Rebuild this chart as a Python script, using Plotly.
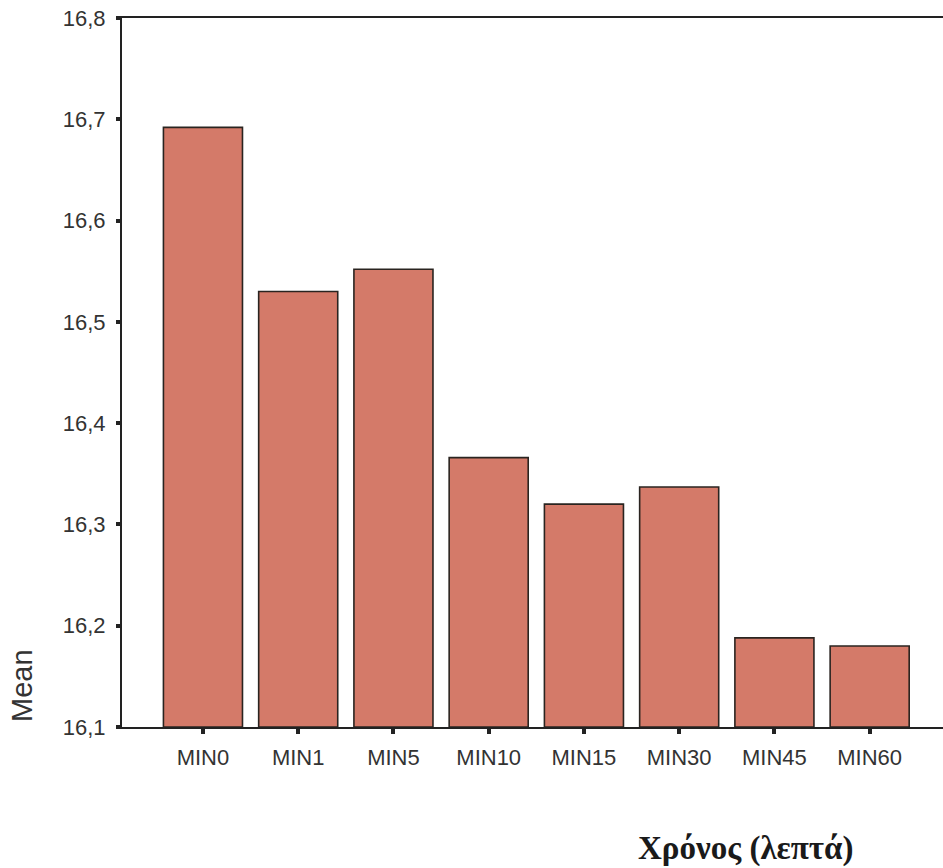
import plotly.graph_objects as go

# Mean value for each measurement time
categories = ["MIN0", "MIN1", "MIN5", "MIN10", "MIN15", "MIN30", "MIN45", "MIN60"]
means = [16.692, 16.530, 16.552, 16.366, 16.320, 16.337, 16.188, 16.180]

y_floor = 16.1
y_tick_values = [16.1, 16.2, 16.3, 16.4, 16.5, 16.6, 16.7, 16.8]
y_tick_labels = ["16,1", "16,2", "16,3", "16,4", "16,5", "16,6", "16,7", "16,8"]

fig = go.Figure()
# bars start at the axis floor; heights measured from it
fig.add_trace(go.Bar(
    x=categories,
    y=[m - y_floor for m in means],
    base=y_floor,
    width=0.83,
    marker=dict(color="#d47a69", line=dict(color="#2a2420", width=1.6)),
))

fig.update_layout(
    width=943, height=868,
    margin=dict(l=122, r=0, t=18, b=141),
    paper_bgcolor="white", plot_bgcolor="white",
    showlegend=False,
    font=dict(family="Liberation Sans, Arial, sans-serif", color="#333333"),
)
fig.update_xaxes(
    type="category",
    range=[-0.85, 7.77],
    showline=True, linecolor="#222222", linewidth=2, mirror=True,
    ticks="outside", ticklen=5, tickwidth=4, tickcolor="#222222",
    ticklabelstandoff=5,
    tickfont=dict(size=22, color="#333333"),
    showgrid=False, zeroline=False,
)
fig.update_yaxes(
    range=[16.1, 16.8],
    tickvals=y_tick_values, ticktext=y_tick_labels,
    showline=True, linecolor="#222222", linewidth=2,
    ticks="outside", ticklen=4, tickwidth=4, tickcolor="#222222",
    ticklabelstandoff=6,
    tickfont=dict(size=22, color="#333333"),
    showgrid=False, zeroline=False,
)
fig.add_annotation(
    text="Mean", textangle=-90,
    xref="paper", yref="paper", x=-0.122, y=0.059,
    xanchor="center", yanchor="middle", showarrow=False,
    font=dict(size=29, color="#333333", family="Liberation Sans, Arial, sans-serif"),
)
fig.add_annotation(
    text="<b>Χρόνος (λεπτά)</b>",
    xref="paper", yref="paper", x=0.759, y=-0.172,
    xanchor="center", yanchor="middle", showarrow=False,
    font=dict(size=33, color="#1a1a1a", family="Liberation Serif, Times New Roman, serif"),
)

fig.write_html("out.html")
